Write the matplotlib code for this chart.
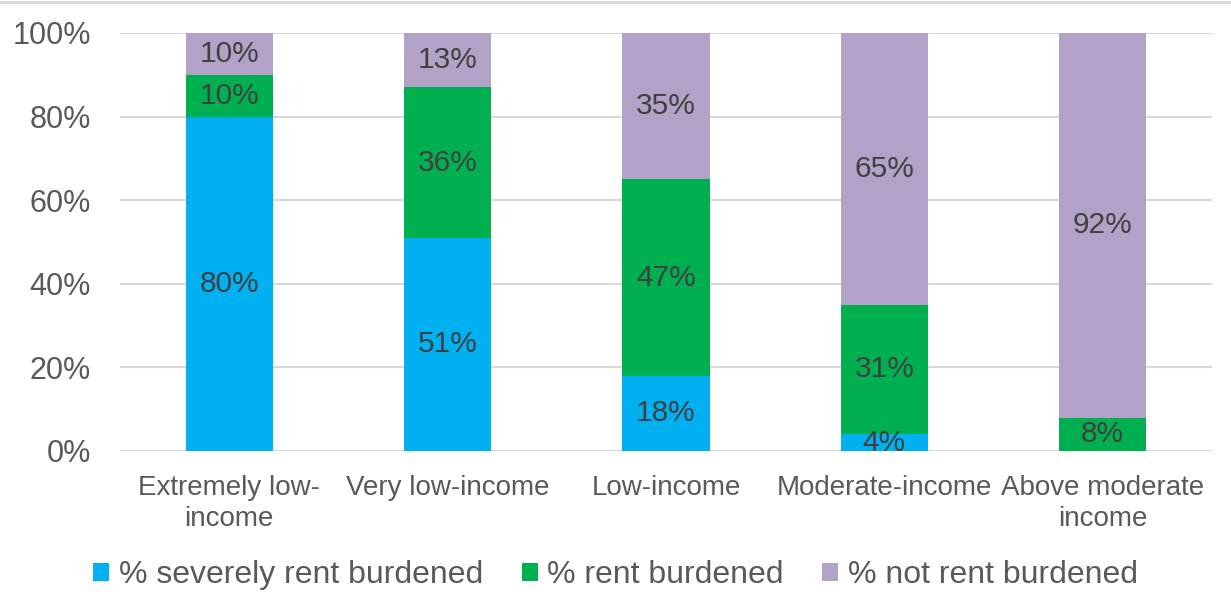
import matplotlib.pyplot as plt
from matplotlib.lines import Line2D
import numpy as np

categories = ["Extremely low-\nincome", "Very low-income", "Low-income",
              "Moderate-income", "Above moderate\nincome"]
severe = [80, 51, 18, 4, 0]
burdened = [10, 36, 47, 31, 8]
not_burdened = [10, 13, 35, 65, 92]
series_names = ["% severely rent burdened", "% rent burdened", "% not rent burdened"]
colors = ["#00B0F0", "#00B050", "#B3A2C7"]

plt.rcParams['font.family'] = ['Liberation Sans', 'DejaVu Sans']

fig = plt.figure(figsize=(12.31, 6.14), dpi=100)
ax = fig.add_axes([120 / 1231, 1 - 451 / 614, (1212 - 120) / 1231, (451 - 33) / 614])

x = np.arange(len(categories))
bottom = np.zeros(len(categories))
for name, vals, col in zip(series_names, [severe, burdened, not_burdened], colors):
    vals = np.array(vals, dtype=float)
    ax.bar(x, vals, 0.4, bottom=bottom, color=col, label=name, zorder=3)
    for xi, b, v in zip(x, bottom, vals):
        if v > 0:
            ax.text(xi, b + v / 2, f"{int(v)}%", ha="center", va="center",
                    fontsize=21.5, color="#404040", zorder=4)
    bottom += vals

ax.set_xlim(-0.5, len(categories) - 0.5)
ax.set_ylim(0, 100)
ax.set_yticks(range(0, 101, 20))
ax.set_yticklabels([f"{v}%" for v in range(0, 101, 20)])
ax.set_xticks(x)
ax.set_xticklabels(categories, linespacing=1.25)
ax.tick_params(axis="y", labelsize=22, colors="#595959", length=0, pad=21)
ax.tick_params(axis="x", labelsize=20, colors="#595959", length=0, pad=17)
ax.grid(axis="y", color="#D9D9D9", linewidth=1.5, zorder=0)
for s in ax.spines.values():
    s.set_visible(False)

leg = fig.legend(loc="center", bbox_to_anchor=(0.5, 1 - 575 / 614), ncol=3,
                 frameon=False, fontsize=23, handlelength=0.5, handleheight=0.5,
                 handletextpad=0.3, columnspacing=1.2)
for t in leg.get_texts():
    t.set_color("#595959")

fig.add_artist(Line2D([0, 1], [1 - 2 / 614, 1 - 2 / 614], color="#D9D9D9",
                      linewidth=2, transform=fig.transFigure))

fig.savefig("out.png", dpi=100)
